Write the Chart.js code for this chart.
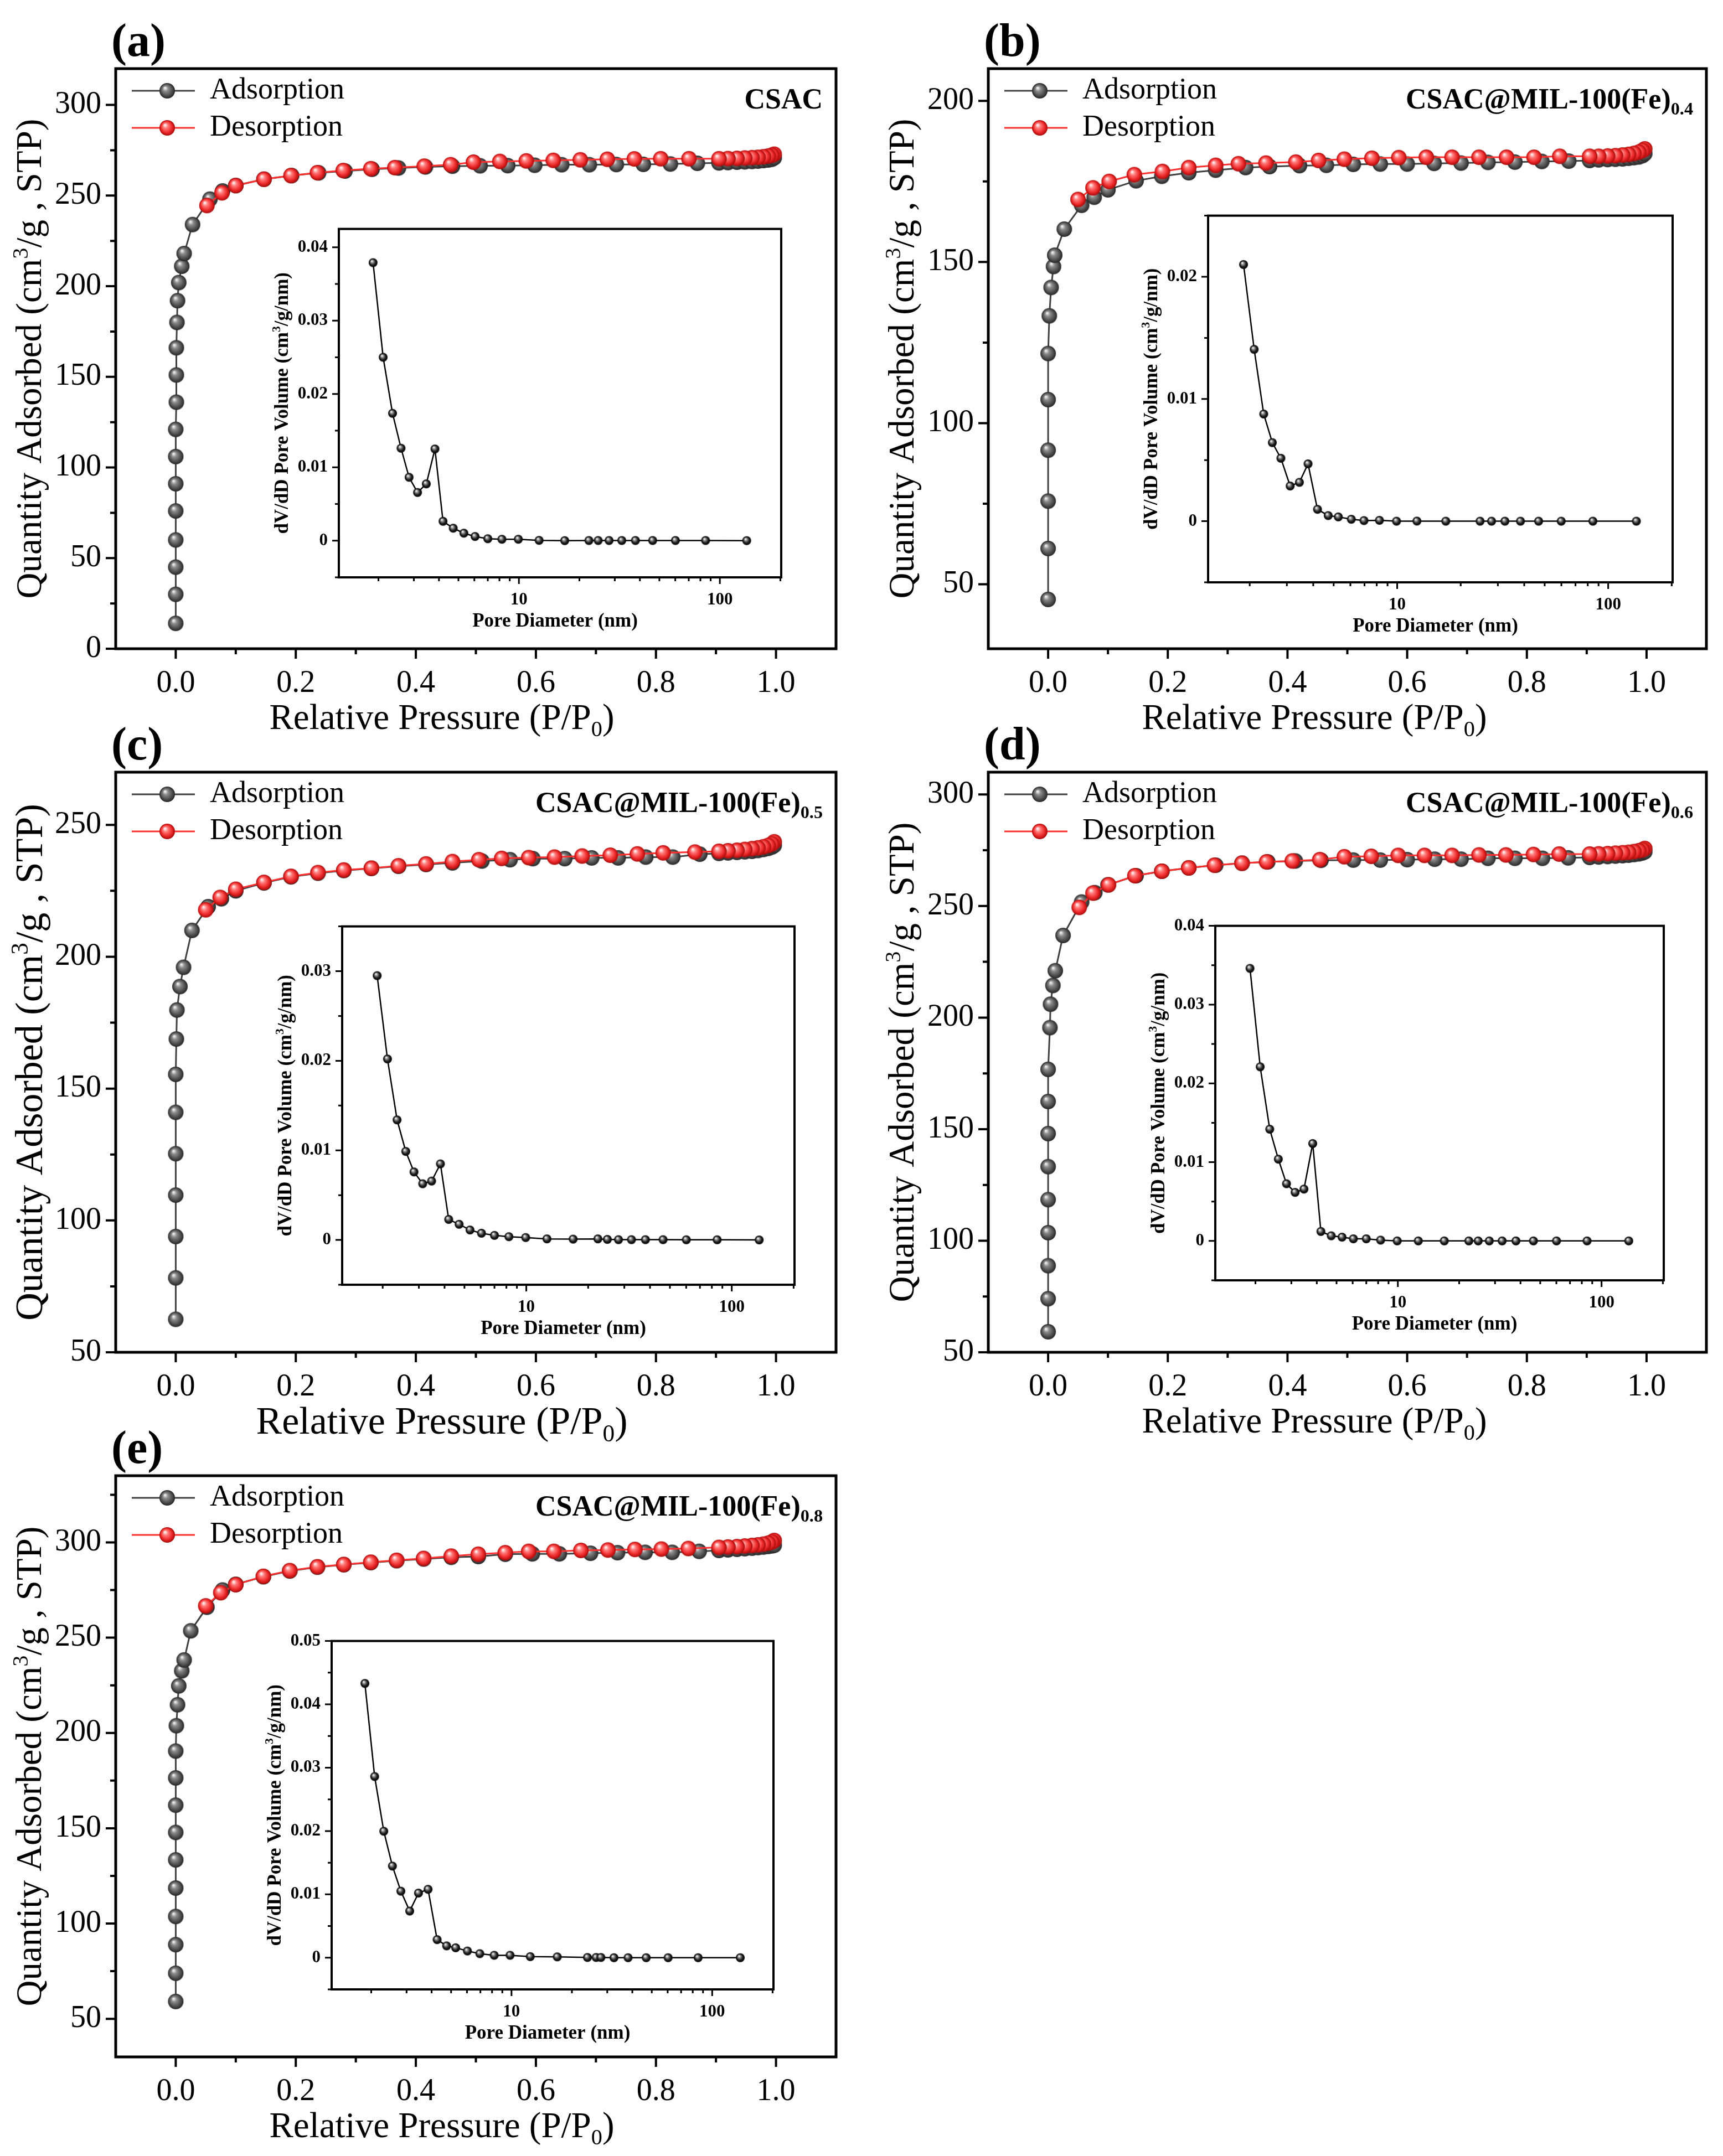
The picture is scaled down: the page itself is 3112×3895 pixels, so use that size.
<!DOCTYPE html>
<html>
<head>
<meta charset="utf-8">
<script src="https://cdn.jsdelivr.net/npm/chart.js@4.4.1/dist/chart.umd.min.js"></script>
<style>
  html, body { margin: 0; padding: 0; background: #fff; }
  #fig { position: relative; width: 3112px; height: 3895px; background: #fff; overflow: hidden; }
  #fig canvas { position: absolute; }
</style>
</head>
<body>
<div id="fig"></div>
<script>
// ---- isotherm data (relative pressure, quantity adsorbed) ----
const pA_ads = [0,0,0,0,0,0,0,0,0.001,0.001,0.001,0.002,0.003,0.005,0.01,0.014,0.028,0.057,0.078,0.1,0.147,0.193,0.238,0.282,0.327,0.371,0.416,0.461,0.507,0.553,0.598,0.643,0.689,0.734,0.779,0.824,0.869,0.905,0.92,0.935,0.948,0.96,0.97,0.979,0.987,0.993,0.997];
const qA_ads = [14,30,45,60,76,91,106,121,136,151,166,180,192,202,211,218,234,248,252.5,255.5,259,261,262.5,263.5,264.5,265.2,265.8,266.2,266.4,266.5,266.7,267,267,267.1,267.2,267.4,267.8,268,268.2,268.4,268.6,268.8,269,269.3,269.6,270,270.8];
const pA_des = [0.997,0.993,0.987,0.979,0.97,0.96,0.948,0.935,0.92,0.905,0.855,0.808,0.764,0.719,0.674,0.629,0.584,0.54,0.496,0.458,0.414,0.365,0.325,0.279,0.236,0.192,0.147,0.1,0.077,0.052];
const qA_des = [272.8,272.2,271.8,271.4,271.1,270.9,270.7,270.5,270.4,270.3,270.3,270.3,270.2,270,269.7,269.4,269.1,268.8,268.4,267,266.2,265.4,264.8,263.8,262.6,261,259,255.5,251.5,244.5];

const pB_ads = [0,0,0,0,0,0,0.002,0.005,0.009,0.011,0.027,0.056,0.077,0.1,0.147,0.19,0.235,0.28,0.33,0.37,0.42,0.465,0.51,0.555,0.6,0.645,0.69,0.735,0.78,0.825,0.87,0.905,0.92,0.935,0.948,0.96,0.97,0.979,0.987,0.993,0.997];
const qB_ads = [45.3,61.1,75.8,91.6,107.3,121.6,133.3,142.1,148.6,152.1,160.2,167.6,170.1,172.4,175.2,176.6,177.7,178.5,179.3,179.6,179.9,180,180.3,180.4,180.4,180.6,180.7,180.9,181,181.2,181.3,181.5,181.7,181.8,181.9,182,182.2,182.4,182.6,183,183.6];
const pB_des = [0.997,0.993,0.987,0.979,0.97,0.96,0.948,0.935,0.92,0.905,0.855,0.812,0.766,0.72,0.675,0.632,0.586,0.541,0.495,0.452,0.414,0.364,0.318,0.28,0.235,0.191,0.144,0.102,0.075,0.05];
const qB_des = [185.1,184.6,184.1,183.7,183.4,183.2,183,182.9,182.8,182.8,182.8,182.5,182.5,182.5,182.5,182.5,182.4,182.2,181.9,181.5,181,180.7,180.5,180,179.3,178.1,177.1,175,173,169.4];

const pC_ads = [0,0,0,0,0,0,0,0.001,0.002,0.007,0.013,0.027,0.054,0.076,0.1,0.147,0.192,0.237,0.28,0.326,0.371,0.417,0.461,0.51,0.557,0.595,0.648,0.693,0.737,0.783,0.828,0.873,0.905,0.92,0.935,0.948,0.96,0.97,0.979,0.987,0.993,0.997];
const qC_ads = [62.5,78.2,93.9,109.6,125.3,141,155.4,168.8,179.8,188.7,196,210,219,222,225,228,230.3,231.7,232.7,233.5,234.3,235,235.6,236.3,236.8,237.2,237.2,237.5,237.5,237.8,237.8,238.9,239.2,239.4,239.6,239.8,240,240.3,240.7,241.1,241.6,242.2];
const pC_des = [0.997,0.993,0.987,0.979,0.97,0.96,0.948,0.935,0.92,0.905,0.865,0.812,0.769,0.724,0.677,0.631,0.588,0.543,0.505,0.461,0.417,0.371,0.326,0.28,0.237,0.192,0.147,0.1,0.074,0.05];
const qC_des = [243.6,242.8,242.2,241.7,241.3,241,240.7,240.4,240.2,240,239.7,239.4,239,238.5,238.2,237.8,237.6,237.3,236.8,236.1,235.2,234.5,233.6,232.9,231.9,230.5,228.2,225.6,222.5,217.8];

const pD_ads = [0,0,0,0,0,0,0,0,0,0.003,0.004,0.008,0.012,0.025,0.056,0.078,0.1,0.147,0.19,0.235,0.28,0.324,0.367,0.413,0.456,0.51,0.555,0.6,0.646,0.69,0.735,0.78,0.826,0.869,0.905,0.92,0.935,0.948,0.96,0.97,0.979,0.987,0.993,0.997];
const qD_ads = [59.2,74,88.8,103.6,118.4,133.2,148,162.4,176.8,195.5,206,214.4,221,236.8,251.8,256,259.5,263.6,265.6,267.1,268.3,269.2,269.8,270.2,270.5,270.6,270.6,270.8,271,271,271.4,271.4,271.4,271.6,271.8,272,272.2,272.4,272.6,272.8,273.1,273.4,273.8,274.3];
const pD_des = [0.997,0.993,0.987,0.979,0.97,0.96,0.948,0.935,0.92,0.905,0.854,0.811,0.765,0.72,0.675,0.629,0.585,0.54,0.495,0.454,0.408,0.365,0.324,0.278,0.235,0.19,0.145,0.101,0.075,0.052];
const qD_des = [275.8,275.2,274.8,274.4,274.1,273.9,273.7,273.5,273.4,273.3,273.3,273.1,272.9,272.9,272.7,272.7,272.7,272.3,272.1,270.8,270.2,269.8,269.2,268.3,267.1,265.6,263.6,259.5,255.8,249.4];

const pE_ads = [0,0,0,0,0,0,0,0,0,0,0.001,0.003,0.005,0.01,0.014,0.025,0.052,0.078,0.1,0.146,0.19,0.236,0.28,0.325,0.368,0.413,0.459,0.504,0.549,0.594,0.639,0.691,0.736,0.782,0.827,0.872,0.905,0.92,0.935,0.948,0.96,0.97,0.979,0.987,0.993,0.997];
const qE_ads = [59.1,73.9,88.9,103.7,118.6,133.4,147.8,162.1,176.4,190.5,203.8,214.8,224.7,232.6,238.3,253.6,266,275,278,282,285,287,288.3,289.4,290.4,291.3,292.2,292.6,293.8,294,294,294.3,294.6,294.8,294.8,295.3,295.8,296.1,296.4,296.7,297,297.3,297.6,297.9,298.2,298.5];
const pE_des = [0.997,0.993,0.987,0.979,0.97,0.96,0.948,0.935,0.92,0.905,0.854,0.809,0.765,0.72,0.675,0.63,0.588,0.549,0.504,0.459,0.413,0.368,0.325,0.28,0.236,0.19,0.146,0.1,0.075,0.05];
const qE_des = [301,300.2,299.6,299.1,298.7,298.4,298.1,297.8,297.6,297.4,296.8,296.5,296.3,296,295.8,295.3,295.3,294.6,293.8,292.8,291.6,290.6,289.6,288.4,287.2,285.2,282.2,277.8,273.6,266.7];

// ---- pore size distribution (diameter nm, dV/dD) ----
const poreD   = [1.88,2.11,2.35,2.59,2.84,3.13,3.46,3.82,4.19,4.71,5.32,6.05,7.0,8.23,9.93,12.6,16.9,22.3,24.8,28.1,32.5,38.0,46.3,60.1,84.9,136];
const poreD_B = [1.87,2.10,2.33,2.56,2.81,3.11,3.44,3.78,4.19,4.71,5.26,6.06,6.96,8.24,9.93,12.4,17.0,24.7,28.0,32.4,38.4,46.8,59.9,84.6,136];
const poreD_E = [1.86,2.08,2.31,2.55,2.81,3.11,3.44,3.84,4.26,4.75,5.27,6.03,6.95,8.2,9.84,12.4,16.9,23.9,26.4,27.9,32.4,38.1,46.9,60.3,85.1,138];
const psdA = [0.0379,0.025,0.01736,0.0126,0.00864,0.00657,0.00774,0.0125,0.00264,0.0017,0.00102,0.00057,0.00026,0.00019,0.00019,0.00004,0,0.00002,0.00002,0.00002,0.00002,0.00002,0.00002,0.00002,0.00002,0];
const psdB = [0.021,0.01406,0.00877,0.00643,0.00515,0.00288,0.00318,0.00469,0.00097,0.00046,0.00035,0.00016,0.00005,0.00007,0,0.00001,0,0,0,0,0,0,0,0,0];
const psdC = [0.0295,0.0202,0.0134,0.00988,0.00759,0.00627,0.00657,0.00849,0.00229,0.00175,0.00111,0.00075,0.00051,0.00036,0.00027,0.00012,0.00009,0.00012,0.00006,0.00003,0.00003,0.00003,0.00003,0.00002,0.00002,0];
const psdD = [0.0346,0.0221,0.01418,0.01038,0.00726,0.00616,0.00658,0.01236,0.0012,0.00065,0.00048,0.00027,0.00027,0.0001,0,0,0,0,0,0,0,0,0,0,0,0];
const psdE = [0.0433,0.0286,0.01996,0.01447,0.0105,0.00736,0.0102,0.0108,0.00285,0.00187,0.00157,0.00106,0.00064,0.00038,0.00038,0.00017,0.00013,0.00004,0.00004,0.00004,0,0,0,0,0,0];

const xTickLabels = ['0.0','0.2','0.4','0.6','0.8','1.0'];
const seriesNames = ['Adsorption', 'Desorption'];

const FONT = '"Liberation Serif", "Times New Roman", serif';
Chart.defaults.font.family = FONT;
Chart.defaults.color = '#000';

const fig = document.getElementById('fig');

// shaded ball used as point marker
function sphere(r, stops) {
  const c = document.createElement('canvas');
  c.width = c.height = Math.ceil(r * 2 + 2);
  const g = c.getContext('2d');
  const m = c.width / 2;
  const grad = g.createRadialGradient(m - r * 0.3, m - r * 0.38, r * 0.05, m, m, r);
  stops.forEach(s => grad.addColorStop(s[0], s[1]));
  g.fillStyle = grad;
  g.beginPath(); g.arc(m, m, r, 0, Math.PI * 2); g.fill();
  return c;
}
function legendImg(ball, color) {
  const c = document.createElement('canvas');
  c.width = 130; c.height = Math.max(32, ball.height);
  const g = c.getContext('2d');
  g.strokeStyle = color; g.lineWidth = 3;
  g.beginPath(); g.moveTo(16, c.height / 2); g.lineTo(130, c.height / 2); g.stroke();
  g.drawImage(ball, 80 - ball.width / 2, c.height / 2 - ball.height / 2);
  return c;
}
const GRAY_BALL = sphere(14, [[0, '#f4f4f4'], [0.3, '#8c8c8c'], [0.75, '#4a4a4a'], [1, '#262626']]);
const RED_BALL = sphere(14, [[0, '#fff4f4'], [0.3, '#ff7a7a'], [0.7, '#ee2a2a'], [1, '#a80a0a']]);
const BLACK_BALL = sphere(8, [[0, '#ffffff'], [0.3, '#8a8a8a'], [0.65, '#1e1e1e'], [1, '#000']]);
const GRAY_LINE = '#404040', RED_LINE = '#ff3030';
const GRAY_LEG = legendImg(GRAY_BALL, GRAY_LINE);
const RED_LEG = legendImg(RED_BALL, RED_LINE);

// text with sub/superscripts, y is the baseline
function drawRich(ctx, segs, x, y, size, bold, align) {
  const w = bold ? 'bold ' : '';
  let total = 0;
  const parts = segs.map(s => {
    const fs = s[1] ? size * 0.62 : size;
    ctx.font = w + fs + 'px ' + FONT;
    const width = ctx.measureText(s[0]).width;
    total += width;
    return { t: s[0], k: s[1], fs, width };
  });
  let cx = align === 'center' ? x - total / 2 : align === 'right' ? x - total : x;
  ctx.textAlign = 'left';
  ctx.textBaseline = 'alphabetic';
  parts.forEach(p => {
    ctx.font = w + p.fs + 'px ' + FONT;
    const dy = p.k === 'sub' ? size * 0.2 : p.k === 'sup' ? -size * 0.38 : 0;
    ctx.fillText(p.t, cx, y + dy);
    cx += p.width;
  });
}

function steps(min, max, step) {
  const out = [];
  for (let v = Math.ceil(min / step - 1e-9) * step; v <= max + 1e-9; v += step) out.push(+v.toFixed(6));
  return out;
}

// frame, outside ticks, titles and labels
const decor = {
  id: 'decor',
  beforeDraw(chart, args, o) {
    // keep the legend inside the plot box, top-left
    if (o.legendInside && chart.legend) {
      const L = chart.legend, a = chart.chartArea;
      const h = L.bottom - L.top;
      L.top = a.top; L.bottom = a.top + h;
    }
  },
  afterDraw(chart, args, o) {
    const { ctx, chartArea: a, scales } = chart;
    const sx = scales.x, sy = scales.y;
    ctx.save();
    ctx.fillStyle = '#000';
    ctx.strokeStyle = '#000';
    ctx.lineWidth = o.tickW;
    ctx.beginPath();
    o.xMajor.forEach(v => { const p = sx.getPixelForValue(v); ctx.moveTo(p, a.bottom); ctx.lineTo(p, a.bottom + o.majLen); });
    o.xMinor.forEach(v => { const p = sx.getPixelForValue(v); ctx.moveTo(p, a.bottom); ctx.lineTo(p, a.bottom + o.minLen); });
    o.yMajor.forEach(v => { const p = sy.getPixelForValue(v); ctx.moveTo(a.left, p); ctx.lineTo(a.left - o.majLen, p); });
    o.yMinor.forEach(v => { const p = sy.getPixelForValue(v); ctx.moveTo(a.left, p); ctx.lineTo(a.left - o.minLen, p); });
    ctx.stroke();
    ctx.lineWidth = o.frame;
    ctx.strokeRect(a.left, a.top, a.right - a.left, a.bottom - a.top);

    const ts = o.titleSize;
    drawRich(ctx, o.xTitle, a.left + o.xTitleDx, a.bottom + o.xTitleDy + ts * 0.33, ts, o.bold, 'center');
    ctx.save();
    ctx.translate(a.left - o.yTitleDx + ts * 0.33, (a.top + a.bottom) / 2);
    ctx.rotate(-Math.PI / 2);
    drawRich(ctx, o.yTitle, 0, 0, ts, o.bold, 'center');
    ctx.restore();
    if (o.sample) drawRich(ctx, o.sample, a.right - 24, a.top + 55 + 52 * 0.33, 52, true, 'right');
    if (o.letter) drawRich(ctx, [[o.letter, '']], a.left - 8, a.top - 48 + 84 * 0.3, 84, true, 'left');
    ctx.restore();
  }
};

function addCanvas(l, t, w, h) {
  const cv = document.createElement('canvas');
  cv.width = w; cv.height = h;
  cv.style.left = l + 'px'; cv.style.top = t + 'px';
  fig.appendChild(cv);
  return cv;
}

function mainChart(p) {
  const cv = addCanvas(p.cl, p.ct, p.cw, p.ch);
  new Chart(cv, {
    type: 'line',
    data: {
      datasets: [
        { label: seriesNames[0], data: p.ads[0].map((x, i) => ({ x, y: p.ads[1][i] })),
          borderColor: GRAY_LINE, borderWidth: 3, pointStyle: GRAY_BALL, pointRadius: 14, order: 2 },
        { label: seriesNames[1], data: p.des[0].map((x, i) => ({ x, y: p.des[1][i] })),
          borderColor: RED_LINE, borderWidth: 3, pointStyle: RED_BALL, pointRadius: 14, order: 1 }
      ]
    },
    options: {
      responsive: false, animation: false, devicePixelRatio: 1,
      layout: { autoPadding: false, padding: { left: 0, top: p.T - p.ct, right: p.cl + p.cw - p.R, bottom: 0 } },
      scales: {
        x: {
          type: 'linear', min: -0.1, max: 1.1,
          afterFit: s => { s.height = p.ct + p.ch - p.B; },
          grid: { display: false, drawTicks: false }, border: { display: false },
          ticks: { stepSize: 0.1, autoSkip: false, maxRotation: 0, padding: 30, font: { size: 56 },
            callback: v => { const k = Math.round(v * 10); return (k >= 0 && k <= 10 && k % 2 === 0) ? xTickLabels[k / 2] : ''; } }
        },
        y: {
          type: 'linear', min: p.ymin, max: p.ymax,
          afterFit: s => { s.width = p.L - p.cl; },
          grid: { display: false, drawTicks: false }, border: { display: false },
          ticks: { stepSize: 10, autoSkip: false, padding: 26, font: { size: 56 },
            callback: v => (Math.abs(v % 50) < 1e-6 ? String(v) : '') }
        }
      },
      plugins: {
        tooltip: { enabled: false },
        legend: {
          position: 'chartArea', align: 'start',
          labels: {
            usePointStyle: true, pointStyleWidth: 130, padding: 13, color: '#000',
            font: { size: 54 },
            generateLabels: chart => chart.data.datasets.map((ds, i) => ({
              text: ds.label, pointStyle: i === 0 ? GRAY_LEG : RED_LEG,
              fillStyle: 'rgba(0,0,0,0)', strokeStyle: 'rgba(0,0,0,0)', lineWidth: 0,
              hidden: false, datasetIndex: i, fontColor: '#000'
            }))
          }
        },
        decor: {
          legendInside: true,
          frame: 5, tickW: 4, majLen: 18, minLen: 10, bold: false,
          xMajor: [0, 0.2, 0.4, 0.6, 0.8, 1.0], xMinor: [0.1, 0.3, 0.5, 0.7, 0.9],
          yMajor: steps(p.ymin, p.ymax, 50), yMinor: steps(p.ymin, p.ymax, 25).filter(v => v % 50 !== 0),
          titleSize: p.titleSize || 65, xTitleDx: 589, xTitleDy: 124, yTitleDx: 156,
          xTitle: [['Relative Pressure (P/P', ''], ['0', 'sub'], [')', '']],
          yTitle: [['Quantity Adsorbed (cm', ''], ['3', 'sup'], ['/g , STP)', '']],
          sample: p.sample, letter: p.letter
        }
      }
    },
    plugins: [decor]
  });
}

const logMinor = [2, 3, 4, 5, 6, 7, 8, 9, 20, 30, 40, 50, 60, 70, 80, 90, 200];

function insetChart(p) {
  const cl = p.L - 135, ct = p.T - 25, cw = p.R - p.L + 155, ch = p.B - p.T + 135;
  const cv = addCanvas(cl, ct, cw, ch);
  new Chart(cv, {
    type: 'line',
    data: {
      datasets: [{ data: p.d.map((x, i) => ({ x, y: p.v[i] })),
        borderColor: '#000', borderWidth: 2.5, pointStyle: BLACK_BALL, pointRadius: 8 }]
    },
    options: {
      responsive: false, animation: false, devicePixelRatio: 1,
      layout: { autoPadding: false, padding: { left: 0, top: 25, right: 20, bottom: 0 } },
      scales: {
        x: {
          type: 'logarithmic', min: 1.27, max: 202,
          afterFit: s => { s.height = 110; },
          grid: { display: false, drawTicks: false }, border: { display: false },
          ticks: { autoSkip: false, maxRotation: 0, padding: 22, font: { size: 31, weight: 'bold' },
            callback: v => (v === 10 || v === 100 ? String(v) : '') }
        },
        y: {
          type: 'linear', min: -0.005, max: p.ymax,
          afterFit: s => { s.width = 135; },
          grid: { display: false, drawTicks: false }, border: { display: false },
          ticks: { stepSize: 0.0025, autoSkip: false, padding: 20, font: { size: 31, weight: 'bold' },
            callback: v => {
              const k = Math.round(v * 10000);
              if (k < 0 || k % 100 !== 0) return '';
              return k === 0 ? '0' : (k / 10000).toFixed(2);
            } }
        }
      },
      plugins: {
        tooltip: { enabled: false }, legend: { display: false },
        decor: {
          frame: 4, tickW: 3, majLen: 12, minLen: 7, bold: true,
          xMajor: [10, 100], xMinor: logMinor,
          yMajor: steps(0, p.ymax, 0.01), yMinor: steps(-0.005, p.ymax, 0.005).filter(v => Math.abs(Math.round(v * 100) - v * 100) > 1e-6),
          titleSize: 35, xTitleDx: (p.R - p.L) / 2 - 10, xTitleDy: 77, yTitleDx: 104,
          xTitle: [['Pore Diameter (nm)', '']],
          yTitle: [['dV/dD Pore Volume (cm', ''], ['3', 'sup'], ['/g/nm)', '']]
        }
      }
    },
    plugins: [decor]
  });
}

mainChart({ letter: '(a)', sample: [['CSAC', '']], ads: [pA_ads, qA_ads], des: [pA_des, qA_des],
  ymin: 0, ymax: 320, cl: 0, ct: 0, cw: 1550, ch: 1340, L: 209, T: 124, R: 1510, B: 1172 });
mainChart({ letter: '(b)', sample: [['CSAC@MIL-100(Fe)', ''], ['0.4', 'sub']], ads: [pB_ads, qB_ads], des: [pB_des, qB_des],
  ymin: 30, ymax: 210, cl: 1555, ct: 0, cw: 1557, ch: 1340, L: 1785, T: 124, R: 3084, B: 1172 });
mainChart({ letter: '(c)', sample: [['CSAC@MIL-100(Fe)', ''], ['0.5', 'sub']], ads: [pC_ads, qC_ads], des: [pC_des, qC_des],
  ymin: 50, ymax: 270, cl: 0, ct: 1280, cw: 1550, ch: 1345, L: 209, T: 1395, R: 1510, B: 2443, titleSize: 70 });
mainChart({ letter: '(d)', sample: [['CSAC@MIL-100(Fe)', ''], ['0.6', 'sub']], ads: [pD_ads, qD_ads], des: [pD_des, qD_des],
  ymin: 50, ymax: 310, cl: 1555, ct: 1280, cw: 1557, ch: 1345, L: 1785, T: 1395, R: 3084, B: 2443 });
mainChart({ letter: '(e)', sample: [['CSAC@MIL-100(Fe)', ''], ['0.8', 'sub']], ads: [pE_ads, qE_ads], des: [pE_des, qE_des],
  ymin: 30, ymax: 335, cl: 0, ct: 2545, cw: 1550, ch: 1350, L: 209, T: 2666, R: 1510, B: 3716 });

insetChart({ d: poreD, v: psdA, ymax: 0.0425, L: 612, T: 400, R: 1413, B: 1043 });
insetChart({ d: poreD_B, v: psdB, ymax: 0.025, L: 2182, T: 376, R: 3023, B: 1052 });
insetChart({ d: poreD, v: psdC, ymax: 0.035, L: 618, T: 1660, R: 1437, B: 2321 });
insetChart({ d: poreD, v: psdD, ymax: 0.04, L: 2195, T: 1659, R: 3007, B: 2313 });
insetChart({ d: poreD_E, v: psdE, ymax: 0.05, L: 599, T: 2951, R: 1399, B: 3594 });
</script>
</body>
</html>
